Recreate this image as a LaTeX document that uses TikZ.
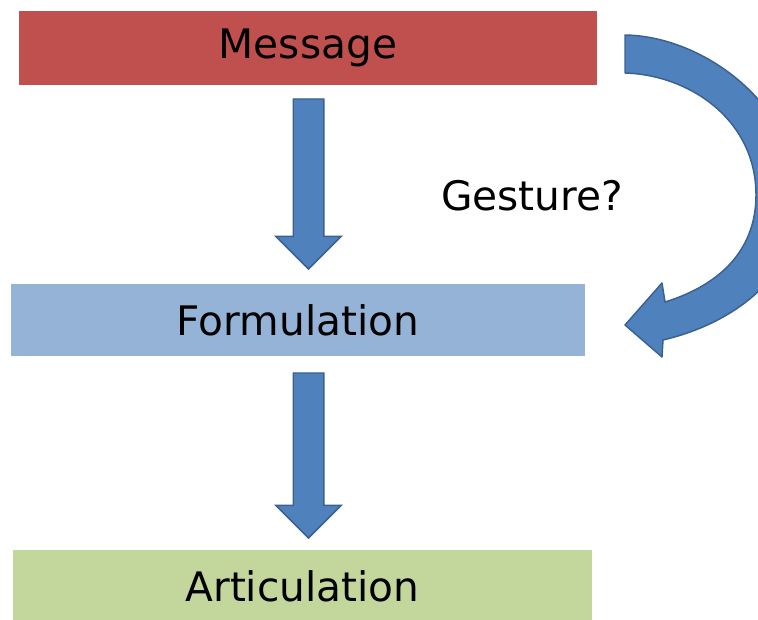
\documentclass[tikz,border=0pt]{standalone}
\usepackage{fontspec}
\setmainfont{DejaVu Sans}
\usetikzlibrary{calc,shapes.arrows}
\definecolor{msgred}{HTML}{C0504D}
\definecolor{formblue}{HTML}{95B3D7}
\definecolor{artgreen}{HTML}{C3D69B}
\definecolor{arrowblue}{HTML}{4F81BD}
\definecolor{arrowedge}{HTML}{3A6190}

\begin{document}
\begin{tikzpicture}[x=0.75pt, y=-0.75pt,
    box/.style={rectangle, inner sep=0pt, font=\fontsize{30.5}{36}\selectfont},
    blockarrow/.style={single arrow, rotate=-90, anchor=tail, fill=arrowblue, draw=arrowedge, line width=1.1pt,
        minimum width=48pt, single arrow head extend=13pt, single arrow head indent=0pt,
        inner xsep=0pt, inner ysep=10.9pt}]
    \clip (0,0) rectangle (758,620);
    \useasboundingbox (0,0) rectangle (758,620);

    \node[box, fill=msgred, minimum width=433.5pt, minimum height=55.5pt] (msg) at (308,48) {Message};
    \node[box, fill=formblue, minimum width=430.5pt, minimum height=54pt] (form) at (298,320) {Formulation};
    \node[box, fill=artgreen, minimum width=434.25pt, minimum height=54pt] (art) at (302.5,586) {Articulation};

    \node[blockarrow, minimum height=127.5pt] (down1) at ($(msg.south)+(0.5,13)$) {};
    \node[blockarrow, minimum height=123.75pt] (down2) at ($(form.south)+(10.5,16)$) {};

    \node[box] (gest) at (532,196) {Gesture?};

    \coordinate (c1) at (625,35);
    \coordinate (c2) at (625,73);
    \coordinate (tip) at (625,325);
    \filldraw[fill=arrowblue, draw=arrowedge, line width=1.1pt, line join=round]
        (c1) .. controls (700,36) and (795,100) .. (800,200)
        .. controls (800,270) and (740,322) .. (663,340)
        -- (662,357) -- (tip) -- (662,283) -- (665,302)
        .. controls (720,285) and (756,250) .. (756,195)
        .. controls (756,120) and (690,75) .. (c2) -- cycle;
\end{tikzpicture}
\end{document}
